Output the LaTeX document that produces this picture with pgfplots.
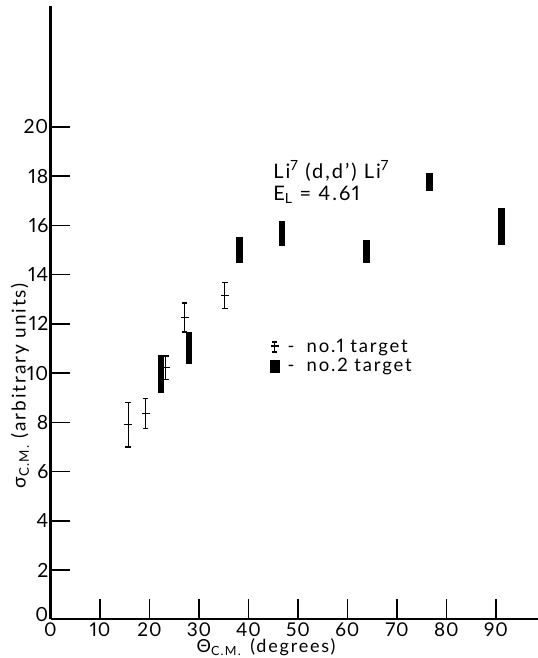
\documentclass[border=0pt]{standalone}
\usepackage{fontspec}
\setmainfont{Lato}[LetterSpace=10, Numbers=Proportional]
\newfontfamily\plainfont{Lato}[LetterSpace=4, Numbers=Proportional]
\usepackage{pgfplots}
\usepackage{pgfplotstable}
\pgfplotsset{compat=1.18}

\pgfplotstableread{
x y e
15.7 7.90 0.90
19.2 8.36 0.61
23.3 10.22 0.48
27.1 12.26 0.59
35.2 13.15 0.52
}\targetone
\pgfplotstableread{
x y e
22.3 9.965 0.755
28.0 11.02 0.63
38.2 15.01 0.53
46.8 15.67 0.49
63.8 14.95 0.47
76.6 17.77 0.36
91.1 15.95 0.76
}\targettwo

\begin{document}
\begin{tikzpicture}
\useasboundingbox (0,0) rectangle (538bp,658bp);
\begin{axis}[
  at={(50.5bp,38.7bp)}, anchor=south west,
  scale only axis, width=488bp, height=613bp,
  xmin=0, xmax=98.6, ymin=0, ymax=24.9,
  axis lines=left,
  axis line style={line width=2bp, -},
  xtick={0,10,...,90}, ytick={2,4,...,20},
  extra y ticks={0},
  extra y tick style={yticklabel style={yshift=5bp}},
  tick align=inside, major tick length=20bp,
  tick style={line width=1.5bp, black},
  /pgf/number format/assume math mode=true,
  ticklabel style={font=\plainfont\fontsize{19.5bp}{24bp}\selectfont},
  xticklabel style={inner sep=0pt, yshift=-3bp, font=\plainfont\fontsize{19bp}{24bp}\selectfont},
  yticklabel style={inner sep=0pt, xshift=-2bp},
  xlabel={Θ\textsubscript{C.M.}\hspace{9bp}(degrees)},
  ylabel={σ\textsubscript{C.M.} (arbitrary units)},
  label style={font=\fontsize{19bp}{22bp}\selectfont, inner sep=0pt},
  xlabel style={at={([yshift=-28bp]axis description cs:0.4416,0)}, anchor=center,
    font=\fontsize{18bp}{22bp}\selectfont},
  ylabel style={at={([xshift=-30.5bp]axis description cs:0,0.381)}, anchor=center},
  legend style={at={(axis cs:44.3,11.45)}, anchor=north west, draw=none, fill=none,
    inner sep=0pt, font=\fontsize{18.5bp}{18.5bp}\selectfont, row sep=0pt,
    cells={anchor=west}},
]
\addplot[black, only marks, mark=-, mark size=4bp, mark options={line width=1.3bp},
  legend image code/.code={
    \draw[line width=1.2bp] (5bp,-5bp)--(5bp,5bp) (2.5bp,5bp)--(7.5bp,5bp)
      (2.5bp,-5bp)--(7.5bp,-5bp) (1bp,1bp)--(9bp,1bp);
  },
  error bars/.cd, y dir=both, y explicit, error mark=-,
  error mark options={rotate=90, mark size=2.8bp, line width=1.3bp, black},
  error bar style={line width=1.3bp, black}]
  table[x=x, y=y, y error=e]{\targetone};
\addlegendentry{\hspace{6bp}-\hspace{12bp}no.1 target}
\addplot[black, only marks, mark=none,
  legend image code/.code={
    \fill (1bp,-6bp) rectangle (10bp,6bp);
  },
  error bars/.cd, y dir=both, y explicit, error mark=none,
  error bar style={line width=6.5bp, black}]
  table[x=x, y=y, y error=e]{\targettwo};
\addlegendentry{\hspace{6bp}-\hspace{12bp}no.2 target}
\node[anchor=base west, font=\fontsize{20bp}{24bp}\selectfont] at (axis cs:44.3,17.92) {Li\textsuperscript{7} (d,d') Li\textsuperscript{7}};
\node[anchor=base west, font=\fontsize{20bp}{24bp}\selectfont] at (axis cs:44.3,17.03) {E\textsubscript{L} = 4.61};
\end{axis}
\end{tikzpicture}
\end{document}
